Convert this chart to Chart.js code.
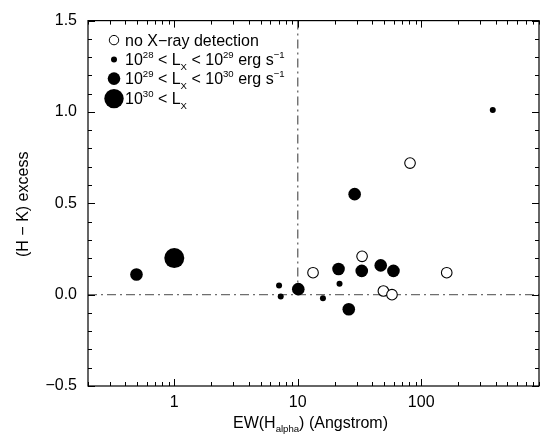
<!DOCTYPE html>
<html>
<head>
<meta charset="utf-8">
<script src="https://cdn.jsdelivr.net/npm/chart.js@4.4.1/dist/chart.umd.min.js"></script>
<style>
  html, body { margin: 0; padding: 0; background: #fff; }
  #wrap { width: 549px; height: 434px; }
</style>
</head>
<body>
<div id="wrap"><canvas id="c" width="549" height="434"></canvas></div>
<script>
// ---- data ----
const noXrayX = [13.3, 33.2, 81.2, 49.4, 58.0, 161];
const noXrayY = [0.12, 0.21, 0.72, 0.02, 0.00, 0.12];

const lowLxX = [7.06, 7.28, 16.0, 21.8, 380];
const lowLxY = [0.05, -0.01, -0.02, 0.06, 1.01];

const midLxX = [0.494, 10.1, 21.4, 25.9, 28.9, 33.0, 47.0, 59.6];
const midLxY = [0.11, 0.03, 0.14, -0.08, 0.55, 0.13, 0.16, 0.13];

const highLxX = [1.0];
const highLxY = [0.20];

const xMin = 0.2, xMax = 900;
const yMin = -0.5, yMax = 1.5;
const xTickLabels = [1, 10, 100];
const yTickLabels = [-0.5, 0.0, 0.5, 1.0, 1.5];
const refLineY = 0;      // horizontal dash-dot line
const refLineX = 10;     // vertical dash-dot line

// ---- helpers ----
const pts = (xs, ys) => xs.map((x, i) => ({ x: x, y: ys[i] }));
const FONT = '"Liberation Sans", Arial, Helvetica, sans-serif';
const FS = 16;

const xMinorTicks = [];
[0.1, 1, 10, 100].forEach(d => { for (let k = 1; k <= 9; k++) { const v = +(d * k).toPrecision(6); if (v >= xMin && v <= xMax) xMinorTicks.push(v); } });

const isYMajor = v => yTickLabels.some(t => Math.abs(t - v) < 1e-6);
const isXMajor = v => xTickLabels.some(t => Math.abs(t - v) < 1e-6);

function drawRich(ctx, segs, x, y, size) {
  let cx = x;
  segs.forEach(s => {
    let fs = size, dy = 0;
    if (s.sup) { fs = size * 0.6; dy = -size * 0.42; }
    if (s.sub) { fs = size * 0.6; dy = size * 0.28; }
    ctx.font = fs + 'px ' + FONT;
    ctx.fillText(s.t, cx, y + dy);
    cx += ctx.measureText(s.t).width;
  });
  return cx - x;
}
function measureRich(ctx, segs, size) {
  let w = 0;
  segs.forEach(s => {
    const fs = (s.sup || s.sub) ? size * 0.6 : size;
    ctx.font = fs + 'px ' + FONT;
    w += ctx.measureText(s.t).width;
  });
  return w;
}

const frame = {
  id: 'frame',
  afterDraw(chart) {
    const { ctx, chartArea: a, scales: { x, y } } = chart;
    ctx.save();
    ctx.strokeStyle = '#000';
    ctx.lineWidth = 1.2;
    ctx.strokeRect(a.left, a.top, a.right - a.left, a.bottom - a.top);
    ctx.lineWidth = 1;
    ctx.beginPath();
    y.ticks.forEach(t => {
      const py = Math.round(y.getPixelForValue(t.value)) + 0.5;
      const len = isYMajor(t.value) ? 7 : 4;
      ctx.moveTo(a.left, py); ctx.lineTo(a.left + len, py);
      ctx.moveTo(a.right, py); ctx.lineTo(a.right - len, py);
    });
    x.ticks.forEach(t => {
      const px = Math.round(x.getPixelForValue(t.value)) + 0.5;
      const len = isXMajor(t.value) ? 7 : 4;
      ctx.moveTo(px, a.bottom); ctx.lineTo(px, a.bottom - len);
      ctx.moveTo(px, a.top); ctx.lineTo(px, a.top + len);
    });
    ctx.stroke();

    // axis titles
    ctx.fillStyle = '#000';
    ctx.textBaseline = 'alphabetic';
    const xt = [{ t: 'EW(H' }, { t: 'alpha', sub: true }, { t: ') (Angstrom)' }];
    const w = measureRich(ctx, xt, FS);
    drawRich(ctx, xt, (a.left + a.right) / 2 - w / 2 - 3, 428, FS);

    ctx.save();
    ctx.translate(28, (a.top + a.bottom) / 2 + 1);
    ctx.rotate(-Math.PI / 2);
    ctx.font = FS + 'px ' + FONT;
    ctx.textAlign = 'center';
    ctx.fillText('(H \u2212 K) excess', 0, 0);
    ctx.restore();

    // legend
    const lx = a.left + 26, tx = a.left + 37;
    const rows = [
      { y: a.top + 19.5, r: 4.7, fill: false, segs: [{ t: 'no X\u2212ray detection' }] },
      { y: a.top + 39, r: 3, fill: true, segs: [{ t: '10' }, { t: '28', sup: true }, { t: ' < L' }, { t: 'X', sub: true }, { t: ' < 10' }, { t: '29', sup: true }, { t: ' erg s' }, { t: '\u22121', sup: true }] },
      { y: a.top + 58, r: 6.3, fill: true, segs: [{ t: '10' }, { t: '29', sup: true }, { t: ' < L' }, { t: 'X', sub: true }, { t: ' < 10' }, { t: '30', sup: true }, { t: ' erg s' }, { t: '\u22121', sup: true }] },
      { y: a.top + 78, r: 9.7, fill: true, segs: [{ t: '10' }, { t: '30', sup: true }, { t: ' < L' }, { t: 'X', sub: true }] }
    ];
    rows.forEach(row => {
      ctx.beginPath();
      ctx.arc(lx, row.y, row.r, 0, Math.PI * 2);
      if (row.fill) { ctx.fillStyle = '#000'; ctx.fill(); }
      else { ctx.fillStyle = '#fff'; ctx.fill(); ctx.strokeStyle = '#000'; ctx.lineWidth = 1; ctx.stroke(); }
      ctx.fillStyle = '#000';
      drawRich(ctx, row.segs, tx, row.y + 5.6, FS);
    });
    ctx.restore();
  }
};

const refStyle = { showLine: true, borderColor: '#6e6e6e', borderWidth: 1.4, borderDash: [9, 4, 2, 4], pointRadius: 0, fill: false };

new Chart(document.getElementById('c'), {
  type: 'scatter',
  data: {
    datasets: [
      { label: 'high', data: pts(highLxX, highLxY), pointRadius: 10, backgroundColor: '#000', borderColor: '#000', borderWidth: 0 },
      { label: 'mid', data: pts(midLxX, midLxY), pointRadius: 6.3, backgroundColor: '#000', borderColor: '#000', borderWidth: 0 },
      { label: 'low', data: pts(lowLxX, lowLxY), pointRadius: 3, backgroundColor: '#000', borderColor: '#000', borderWidth: 0 },
      { label: 'none', data: pts(noXrayX, noXrayY), pointRadius: 5.3, backgroundColor: '#fff', borderColor: '#000', borderWidth: 1.1 },
      Object.assign({ label: 'refH', data: [{ x: xMin, y: refLineY }, { x: xMax, y: refLineY }] }, refStyle),
      Object.assign({ label: 'refV', data: [{ x: refLineX, y: yMax }, { x: refLineX, y: refLineY }] }, refStyle)
    ]
  },
  options: {
    responsive: false,
    animation: false,
    events: [],
    layout: { padding: { top: 14, right: 9, left: 0, bottom: 0 } },
    plugins: { legend: { display: false }, tooltip: { enabled: false }, title: { display: false } },
    scales: {
      x: {
        type: 'logarithmic', min: xMin, max: xMax,
        afterBuildTicks: s => { s.ticks = xMinorTicks.map(v => ({ value: v })); },
        afterFit: s => { s.height = 48; },
        grid: { display: false, drawTicks: false },
        border: { display: false },
        ticks: {
          autoSkip: false, maxRotation: 0, padding: 7, color: '#000',
          font: { family: FONT, size: FS },
          callback: v => isXMajor(v) ? String(v) : ''
        }
      },
      y: {
        type: 'linear', min: yMin, max: yMax,
        afterFit: s => { s.width = 88; },
        grid: { display: false, drawTicks: false },
        border: { display: false },
        ticks: {
          stepSize: 0.1, autoSkip: false, padding: 11, color: '#000',
          font: { family: FONT, size: FS },
          callback: v => isYMajor(v) ? v.toFixed(1).replace('-', '\u2212') : ''
        }
      }
    }
  },
  plugins: [frame]
});
</script>
</body>
</html>
